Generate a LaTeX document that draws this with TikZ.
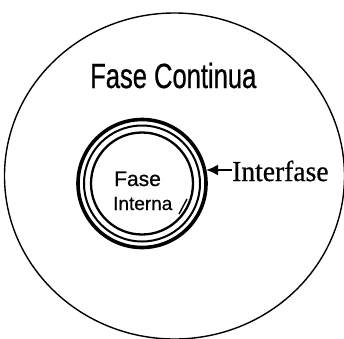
\documentclass[tikz,border=0pt]{standalone}
\usepackage{fontspec}
\usetikzlibrary{arrows.meta}
\newfontfamily\contfont[FakeStretch=0.73,FakeBold=0.6]{Liberation Sans}
\newfontfamily\innerfont[FakeBold=0.6]{Liberation Sans}
\newfontfamily\iffont[FakeStretch=0.95,FakeBold=0.6]{Liberation Serif}
\tikzset{
  label text/.style={inner sep=0pt, anchor=base west},
  ring/.style={draw=black},
}
\begin{document}
\begin{tikzpicture}[x=1pt,y=-1pt]
\useasboundingbox (0,0) rectangle (344,338);
\fill[white] (0,0) rectangle (344,338);
\begin{scope}
\clip (0,0) rectangle (344,338);
\draw[line width=1.4pt] (174.5,176) ellipse [x radius=170, y radius=163];
\end{scope}
% interface rings
\coordinate (c) at (142,183.5);
\draw[ring, line width=3.6pt] (c) circle [radius=64];
\draw[ring, line width=2pt] (c) circle [radius=58];
\draw[ring, line width=2.3pt] (c) circle [radius=51];
\coordinate (ringR) at (206,170);
% texts
\node[label text] (cont) at (90,88) {\contfont\fontsize{35}{35}\selectfont Fase Continua};
\node[label text] (fase) at (114,186) {\innerfont\fontsize{21}{21}\selectfont Fase};
\node[label text] (interna) at (113,210) {\innerfont\fontsize{19}{19}\selectfont Interna};
\node[label text] (inter) at (232,181) {\iffont\fontsize{29}{29}\selectfont Interfase};
% arrow
\draw[line width=2pt, -{Latex[length=12pt,width=11pt]}] (inter.west |- ringR) -- (ringR);
% small mark
\coordinate (m1) at (179,214);
\coordinate (m2) at (187,199);
\draw[line width=1.4pt] (m1) -- (m2);
\end{tikzpicture}
\end{document}
